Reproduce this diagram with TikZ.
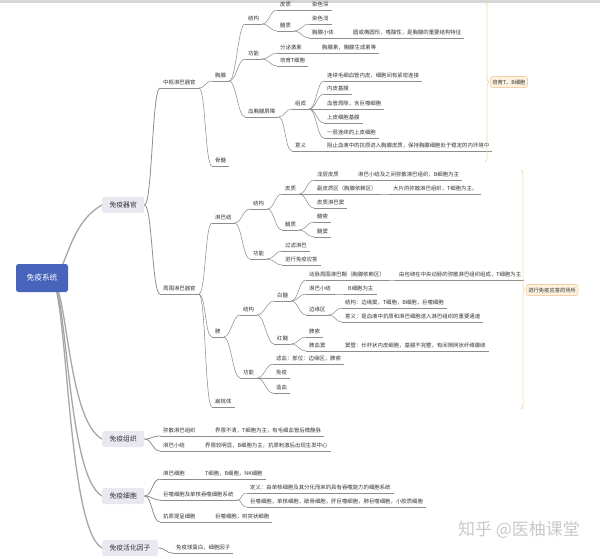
\documentclass[tikz,border=0pt]{standalone}
\usepackage{fontspec}
\setmainfont{Noto Sans CJK SC}
\usetikzlibrary{decorations.pathreplacing,calc}
\pgfdeclarelayer{bg}
\pgfsetlayers{bg,main}
\definecolor{txt}{HTML}{333333}
\definecolor{ln}{HTML}{8E8E8E}
\definecolor{rln}{HTML}{A6A6A6}
\definecolor{rootblue}{HTML}{4863BA}
\definecolor{boxfill}{HTML}{E8E8F1}
\definecolor{brc}{HTML}{F0DAB2}
\definecolor{lblfill}{HTML}{FDF2E2}
\definecolor{lbldraw}{HTML}{F2D2A2}
\definecolor{wm}{HTML}{C9C9C9}
\definecolor{topbar}{HTML}{D6D6D6}
\tikzset{
  tx/.style={anchor=west, inner sep=0pt, text=txt, font=\fontsize{5.4}{6}\selectfont, text height=4.4pt, text depth=1.1pt},
  uline/.style={draw=ln, line width=0.5pt},
  cline/.style={draw=ln, line width=0.55pt},
  bline/.style={draw=ln, line width=0.8pt},
  rline/.style={draw=rln, line width=1.3pt},
  rootbox/.style={fill=rootblue, text=white, rounded corners=2.5pt, minimum width=52pt, minimum height=28pt, inner sep=0pt, font=\fontsize{7.7}{8}\selectfont},
  l1box/.style={anchor=west, fill=boxfill, text=txt, rounded corners=2pt, inner xsep=7.4pt, inner ysep=0pt, minimum height=16pt, font=\fontsize{6.8}{7}\selectfont},
  brace/.style={draw=brc, line width=0.9pt, decorate, decoration={brace, amplitude=4pt}},
  lbl/.style={anchor=west, fill=lblfill, draw=lbldraw, line width=0.6pt, rounded corners=2pt, inner xsep=2pt, inner ysep=3pt, text=txt, font=\fontsize{5.3}{6}\selectfont},
  wmark/.style={text=wm, font=\fontsize{17}{18}\selectfont, inner sep=0pt}
}
\newcommand\TN[4]{\node[tx] (#1) at (#2,#3) {#4};
  \draw[uline] ([shift={(-3pt,-5pt)}]#1.west) -- ([shift={(3pt,-5pt)}]#1.east);}
\newcommand\cn[2]{\draw[cline] ([shift={(3pt,-5pt)}]#1.east) .. controls +(7pt,0pt) and +(-7pt,0pt) .. ([shift={(-3pt,-5pt)}]#2.west);}
\newcommand\cb[2]{\draw[bline] (#1.east) .. controls +(8pt,0pt) and +(-8pt,0pt) .. ([shift={(-3pt,-5pt)}]#2.west);}
\begin{document}
\begin{tikzpicture}[x=1pt,y=-1pt]
\useasboundingbox (0,0) rectangle (600,558);
\fill[topbar] (0,0) rectangle (600,2.5);

% root and level-1
\node[rootbox] (root) at (42,278) {免疫系统};
\node[l1box] (qg) at (102,205) {免疫器官};
\node[l1box] (zz) at (102,439) {免疫组织};
\node[l1box] (xb) at (102,496) {免疫细胞};
\node[l1box] (hh) at (102,548) {免疫活化因子};
\begin{pgfonlayer}{bg}
\draw[rline] ([xshift=8pt]root.center) .. controls (67,278) and (66,225) .. (qg.west);
\draw[rline] ([xshift=8pt]root.center) .. controls (68,278) and (66,419) .. (zz.west);
\draw[rline] ([xshift=8pt]root.center) .. controls (68,278) and (66,476) .. (xb.west);
\draw[rline] ([xshift=8pt]root.center) .. controls (68,278) and (66,528) .. (hh.west);
\end{pgfonlayer}

% 免疫器官
\TN{zs}{163}{83}{中枢淋巴器官}
\TN{zw}{163}{289}{周围淋巴器官}
\TN{xx}{215}{76}{胸腺}
\TN{gs}{215}{161}{骨髓}
\TN{xjg}{248}{19}{结构}
\TN{xgn}{248}{54}{功能}
\TN{xpz}{248}{112}{血胸腺屏障}
\TN{pza}{280}{5}{皮质}
\TN{pzaa}{312}{5}{染色深}
\TN{sza}{280}{26}{髓质}
\TN{szaa}{312}{19}{染色浅}
\TN{szab}{312}{33}{胸腺小体}
\TN{szac}{353}{33}{圆或椭圆形，嗜酸性，是胸腺的重要结构特征}
\TN{fm}{280}{48}{分泌激素}
\TN{fma}{322}{48}{胸腺素，胸腺生成素等}
\TN{py}{280}{61}{培育T细胞}
\TN{zc}{295}{104}{组成}
\TN{zca}{327}{76}{连续毛细血管内皮，细胞间有紧密连接}
\TN{zcb}{327}{89}{内皮基膜}
\TN{zcc}{327}{104}{血管周隙，含巨噬细胞}
\TN{zcd}{327}{118}{上皮细胞基膜}
\TN{zce}{327}{133}{一层连续的上皮细胞}
\TN{yy}{295}{146}{意义}
\TN{yya}{327}{146}{阻止血液中的抗原进入胸腺皮质，保持胸腺细胞处于稳定的内环境中}

\TN{lbj}{215}{218}{淋巴结}
\TN{ljg}{253}{204}{结构}
\TN{lgn}{253}{254}{功能}
\TN{lpz}{285}{189}{皮质}
\TN{lpza}{317}{175}{浅层皮质}
\TN{lpzaa}{358}{175}{淋巴小结及之间弥散淋巴组织，B细胞为主}
\TN{lpzb}{317}{189}{副皮质区（胸腺依赖区）}
\TN{lpzba}{393}{189}{大片的弥散淋巴组织，T细胞为主。}
\TN{lpzc}{317}{203}{皮质淋巴窦}
\TN{lsz}{285}{225}{髓质}
\TN{lsza}{317}{217}{髓索}
\TN{lszb}{317}{232}{髓窦}
\TN{lgna}{285}{246}{过滤淋巴}
\TN{lgnb}{285}{260}{进行免疫应答}

\TN{pi}{215}{332}{脾}
\TN{pjg}{243}{310}{结构}
\TN{pgn}{243}{373}{功能}
\TN{bs}{277}{296}{白髓}
\TN{bsa}{309}{275}{动脉周围淋巴鞘（胸腺依赖区）}
\TN{bsaa}{399}{275}{由包绕在中央动脉的弥散淋巴组织组成，T细胞为主}
\TN{bsb}{309}{289}{淋巴小结}
\TN{bsba}{348}{289}{B细胞为主}
\TN{byq}{309}{310}{边缘区}
\TN{byqa}{345}{303}{结构：边缘窦，T细胞，B细胞，巨噬细胞}
\TN{byqb}{345}{317}{意义：是血液中抗原和淋巴细胞进入淋巴组织的重要通道}
\TN{hs}{277}{339}{红髓}
\TN{hsa}{309}{332}{脾索}
\TN{hsb}{309}{346}{脾血窦}
\TN{hsba}{345}{346}{窦壁：长杆状内皮细胞，基膜不完整，有间隙网状纤维膜绕}
\TN{pga}{276}{359}{滤血：部位：边缘区，脾索}
\TN{pgb}{276}{373}{免疫}
\TN{pgc}{276}{388}{造血}
\TN{btt}{215}{402}{扁桃体}

% 免疫组织
\TN{zza}{163}{431}{弥散淋巴组织}
\TN{zzaa}{215}{431}{界限不清，T细胞为主，有毛细血管后微静脉}
\TN{zzb}{163}{446}{淋巴小结}
\TN{zzba}{205}{446}{界限较明显，B细胞为主，抗原刺激后出现生发中心}

% 免疫细胞
\TN{xba}{163}{474}{淋巴细胞}
\TN{xbaa}{205}{474}{T细胞，B细胞，NK细胞}
\TN{xbb}{163}{495}{巨噬细胞及单核吞噬细胞系统}
\TN{xbba}{250}{488}{定义：由单核细胞及其分化而来的具有吞噬能力的细胞系统}
\TN{xbbb}{250}{502}{巨噬细胞，单核细胞，破骨细胞，肝巨噬细胞，肺巨噬细胞，小胶质细胞}
\TN{xbc}{163}{517}{抗原提呈细胞}
\TN{xbca}{215}{517}{巨噬细胞，树突状细胞}

% 免疫活化因子
\TN{hha}{176}{548}{免疫球蛋白，细胞因子}

% connectors
\cb{qg}{zs} \cb{qg}{zw}
\cn{zs}{xx} \cn{zs}{gs}
\cn{xx}{xjg} \cn{xx}{xgn} \cn{xx}{xpz}
\cn{xjg}{pza} \cn{xjg}{sza} \cn{pza}{pzaa}
\cn{sza}{szaa} \cn{sza}{szab} \cn{szab}{szac}
\cn{xgn}{fm} \cn{xgn}{py} \cn{fm}{fma}
\cn{xpz}{zc} \cn{xpz}{yy}
\cn{zc}{zca} \cn{zc}{zcb} \cn{zc}{zcc} \cn{zc}{zcd} \cn{zc}{zce}
\cn{yy}{yya}
\cn{zw}{lbj} \cn{zw}{pi} \cn{zw}{btt}
\cn{lbj}{ljg} \cn{lbj}{lgn}
\cn{ljg}{lpz} \cn{ljg}{lsz}
\cn{lpz}{lpza} \cn{lpz}{lpzb} \cn{lpz}{lpzc}
\cn{lpza}{lpzaa} \cn{lpzb}{lpzba}
\cn{lsz}{lsza} \cn{lsz}{lszb}
\cn{lgn}{lgna} \cn{lgn}{lgnb}
\cn{pi}{pjg} \cn{pi}{pgn}
\cn{pjg}{bs} \cn{pjg}{hs}
\cn{bs}{bsa} \cn{bs}{bsb} \cn{bs}{byq}
\cn{bsa}{bsaa} \cn{bsb}{bsba}
\cn{byq}{byqa} \cn{byq}{byqb}
\cn{hs}{hsa} \cn{hs}{hsb} \cn{hsb}{hsba}
\cn{pgn}{pga} \cn{pgn}{pgb} \cn{pgn}{pgc}
\cb{zz}{zza} \cb{zz}{zzb} \cn{zza}{zzaa} \cn{zzb}{zzba}
\cb{xb}{xba} \cb{xb}{xbb} \cb{xb}{xbc}
\cn{xba}{xbaa} \cn{xbb}{xbba} \cn{xbb}{xbbb} \cn{xbc}{xbca}
\cb{hh}{hha}

% braces and summaries
\coordinate (baS) at (485,2);
\coordinate (baE) at (485,162);
\draw[brace] (baS) -- (baE);
\node[lbl] (sa) at (490,82) {培育T、B细胞};
\coordinate (bbS) at (521,170);
\coordinate (bbE) at (521,409);
\draw[brace] (bbS) -- (bbE);
\node[lbl] (sb) at (526,290) {进行免疫应答的场所};

% watermark
\node[wmark] (wmk) at (519,530) {知乎 @医柚课堂};
\end{tikzpicture}
\end{document}
